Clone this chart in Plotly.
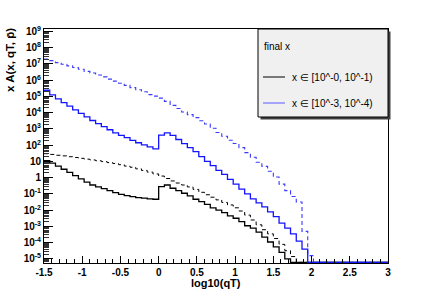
import numpy as np
import plotly.graph_objects as go

# ---------------- data ----------------
x_low, x_high, n_bins = -1.5, 3.0, 60
bin_edges = np.linspace(x_low, x_high, n_bins + 1)

# x in [10^-0, 10^-1), solid black
black_solid = [11.2, 7.9, 5.2, 3.3, 2.1, 1.35, 0.85, 0.54, 0.355, 0.27,
               0.21, 0.158, 0.12, 0.095, 0.079, 0.069, 0.06, 0.055, 0.05, 0.047,
               0.28, 0.355, 0.224, 0.158, 0.11, 0.076, 0.047, 0.034, 0.023, 0.014,
               0.01, 0.0071, 0.0045, 0.0032, 0.002, 0.0011, 7.9e-4, 4.5e-4, 2.2e-4, 1.1e-4,
               5.6e-5, 2.5e-5, 1.0e-5, 0, 0, 0, 0, 0, 0, 0,
               0, 0, 0, 0, 0, 0, 0, 0, 0, 0]
# x in [10^-0, 10^-1), dashed black
black_dashed = [30, 27, 24, 22, 19.5, 17.4, 15.5, 13.8, 12.3, 11,
                9.8, 8.5, 7.4, 6.3, 5.2, 4.4, 3.5, 2.8, 2.2, 1.7,
                1.26, 0.89, 0.63, 0.47, 0.355, 0.27, 0.19, 0.126, 0.089, 0.063,
                0.043, 0.03, 0.021, 0.014, 0.0089, 0.005, 0.0025, 0.00126, 6.3e-4, 3.5e-4,
                1.8e-4, 7.9e-5, 3.2e-5, 1.4e-5, 0, 0, 0, 0, 0, 0,
                0, 0, 0, 0, 0, 0, 0, 0, 0, 0]
# x in [10^-3, 10^-4), solid blue
blue_solid = [2.4e5, 1.26e5, 7.1e4, 4.2e4, 2.5e4, 1.5e4, 9.1e3, 5.6e3, 3.3e3, 2.1e3,
              1.4e3, 890, 575, 400, 290, 200, 141, 105, 79, 60,
              417, 575, 400, 224, 126, 71, 40, 20, 10, 5.6,
              2.8, 1.6, 0.79, 0.4, 0.2, 0.1, 0.05, 0.028, 0.016, 0.0079,
              0.004, 0.0016, 7.9e-4, 3.5e-4, 1.26e-4, 4e-5, 0, 0, 0, 0,
              0, 0, 0, 0, 0, 0, 0, 0, 0, 0]
# x in [10^-3, 10^-4), dashed blue
blue_dashed = [2.0e7, 1.6e7, 1.2e7, 9.5e6, 7.6e6, 6.0e6, 4.7e6, 3.5e6, 2.75e6, 2.1e6,
               1.6e6, 1.17e6, 8.7e5, 6.5e5, 4.8e5, 3.5e5, 2.6e5, 1.95e5, 1.3e5, 1.05e5,
               7.9e4, 5.0e4, 2.8e4, 1.8e4, 1.1e4, 7.6e3, 5.0e3, 3.2e3, 2.0e3, 1.1e3,
               600, 355, 200, 126, 71, 35, 18, 8.9, 5.0, 2.5,
               1.1, 0.4, 0.16, 0.07, 0.032, 5e-4, 1.6e-5, 0, 0, 0,
               0, 0, 0, 0, 0, 0, 0, 0, 0, 0]

x_tick_vals = [-1.5, -1, -0.5, 0, 0.5, 1, 1.5, 2, 2.5, 3]
x_tick_text = ["-1.5", "-1", "-0.5", "0", "0.5", "1", "1.5", "2", "2.5", "3"]
y_exponents = list(range(-5, 10))
y_tick_text = ["10<sup>-5</sup>", "10<sup>-4</sup>", "10<sup>-3</sup>", "10<sup>-2</sup>",
               "10<sup>-1</sup>", "1", "10", "10<sup>2</sup>", "10<sup>3</sup>",
               "10<sup>4</sup>", "10<sup>5</sup>", "10<sup>6</sup>", "10<sup>7</sup>",
               "10<sup>8</sup>", "10<sup>9</sup>"]

legend_title = "final x"
legend_labels = ["x \u2208 [10^-0, 10^-1)", "x \u2208 [10^-3, 10^-4)"]
x_title = "log10(qT)"
y_title = "x A(x, qT, p\u0304)"

# ---------------- layout geometry ----------------
W, H = 431, 294
L, R, T, B = 44, 388, 29, 263
y_log_range = [-5.25, 9.15]
floor_val = 10 ** (y_log_range[0] + 0.04)


def px(xp):
    return (xp - L) / (R - L)


def py(yp):
    return (B - yp) / (B - T)


def step_trace(vals, color, dash, width):
    v = [val if val > 0 else floor_val for val in vals]
    yy = v + [v[-1]]
    return go.Scatter(x=bin_edges, y=yy, mode="lines", line_shape="hv",
                      line=dict(color=color, width=width, dash=dash),
                      showlegend=False, hoverinfo="skip")


fig = go.Figure()
fig.add_trace(step_trace(black_dashed, "#000000", "4px,3px", 1.0))
fig.add_trace(step_trace(black_solid, "#000000", "solid", 1.3))
fig.add_trace(step_trace(blue_dashed, "#3a3aff", "4px,3px", 1.1))
fig.add_trace(step_trace(blue_solid, "#1414ff", "solid", 1.3))

font_fam = "Liberation Sans, Arial, Helvetica, sans-serif"

fig.update_layout(
    template="none",
    width=W, height=H,
    margin=dict(l=L, r=W - R, t=T, b=H - B, pad=0, autoexpand=False),
    paper_bgcolor="white", plot_bgcolor="white",
    font=dict(family=font_fam, color="black"),
    showlegend=False,
    xaxis=dict(range=[x_low, x_high], tickmode="array", tickvals=x_tick_vals,
               ticktext=x_tick_text, ticks="inside", ticklen=7, tickwidth=1,
               tickcolor="black", showline=True, linecolor="black", linewidth=1,
               mirror=True, showgrid=False, zeroline=False, automargin=False,
               tickfont=dict(size=10, weight="bold", family=font_fam),
               minor=dict(ticks="inside", dtick=0.1, tick0=-1.5, ticklen=4,
                          tickcolor="black", showgrid=False)),
    yaxis=dict(type="log", range=y_log_range, tickmode="array",
               tickvals=[10.0 ** e for e in y_exponents], ticktext=y_tick_text,
               ticks="inside", ticklen=9, tickwidth=1, tickcolor="black",
               showline=True, linecolor="black", linewidth=1, mirror=True,
               showgrid=False, zeroline=False, automargin=False,
               tickfont=dict(size=10, weight="bold", family=font_fam),
               minor=dict(ticks="inside", dtick="D1", ticklen=5,
                          tickcolor="#333333", showgrid=False)),
)

# legend box with shadow
fig.add_shape(type="rect", xref="paper", yref="paper",
              x0=px(260.5), x1=px(390.5), y0=py(119.5), y1=py(31.5),
              fillcolor="#404040", line=dict(width=0), layer="above")
fig.add_shape(type="rect", xref="paper", yref="paper",
              x0=px(258), x1=px(388), y0=py(117), y1=py(29),
              fillcolor="#f0f0f0", line=dict(color="black", width=1), layer="above")
fig.add_shape(type="line", xref="paper", yref="paper",
              x0=px(263), x1=px(285), y0=py(77), y1=py(77),
              line=dict(color="black", width=1), layer="above")
fig.add_shape(type="line", xref="paper", yref="paper",
              x0=px(263), x1=px(285), y0=py(103), y1=py(103),
              line=dict(color="#7b7bff", width=1.3), layer="above")

ann_font = dict(family=font_fam, size=10, color="black")
fig.add_annotation(xref="paper", yref="paper", x=px(262), y=py(47), text=legend_title,
                   showarrow=False, xanchor="left", yanchor="middle", font=ann_font)
fig.add_annotation(xref="paper", yref="paper", x=px(290), y=py(77), text=legend_labels[0],
                   showarrow=False, xanchor="left", yanchor="middle", font=ann_font)
fig.add_annotation(xref="paper", yref="paper", x=px(290), y=py(103), text=legend_labels[1],
                   showarrow=False, xanchor="left", yanchor="middle", font=ann_font)

# axis titles
fig.add_annotation(xref="paper", yref="paper", x=px(216), y=py(283), text=x_title,
                   showarrow=False, xanchor="center", yanchor="middle", borderpad=0,
                   font=dict(family=font_fam, size=11, color="black", weight="bold"))
fig.add_annotation(xref="paper", yref="paper", x=px(10), y=py(60), text=y_title,
                   showarrow=False, xanchor="center", yanchor="middle", textangle=-90,
                   font=dict(family=font_fam, size=11.5, color="black", weight="bold"))

fig.write_html("out.html", config={"displayModeBar": False},
               post_script="document.body.style.margin='0';document.body.style.padding='0';")
